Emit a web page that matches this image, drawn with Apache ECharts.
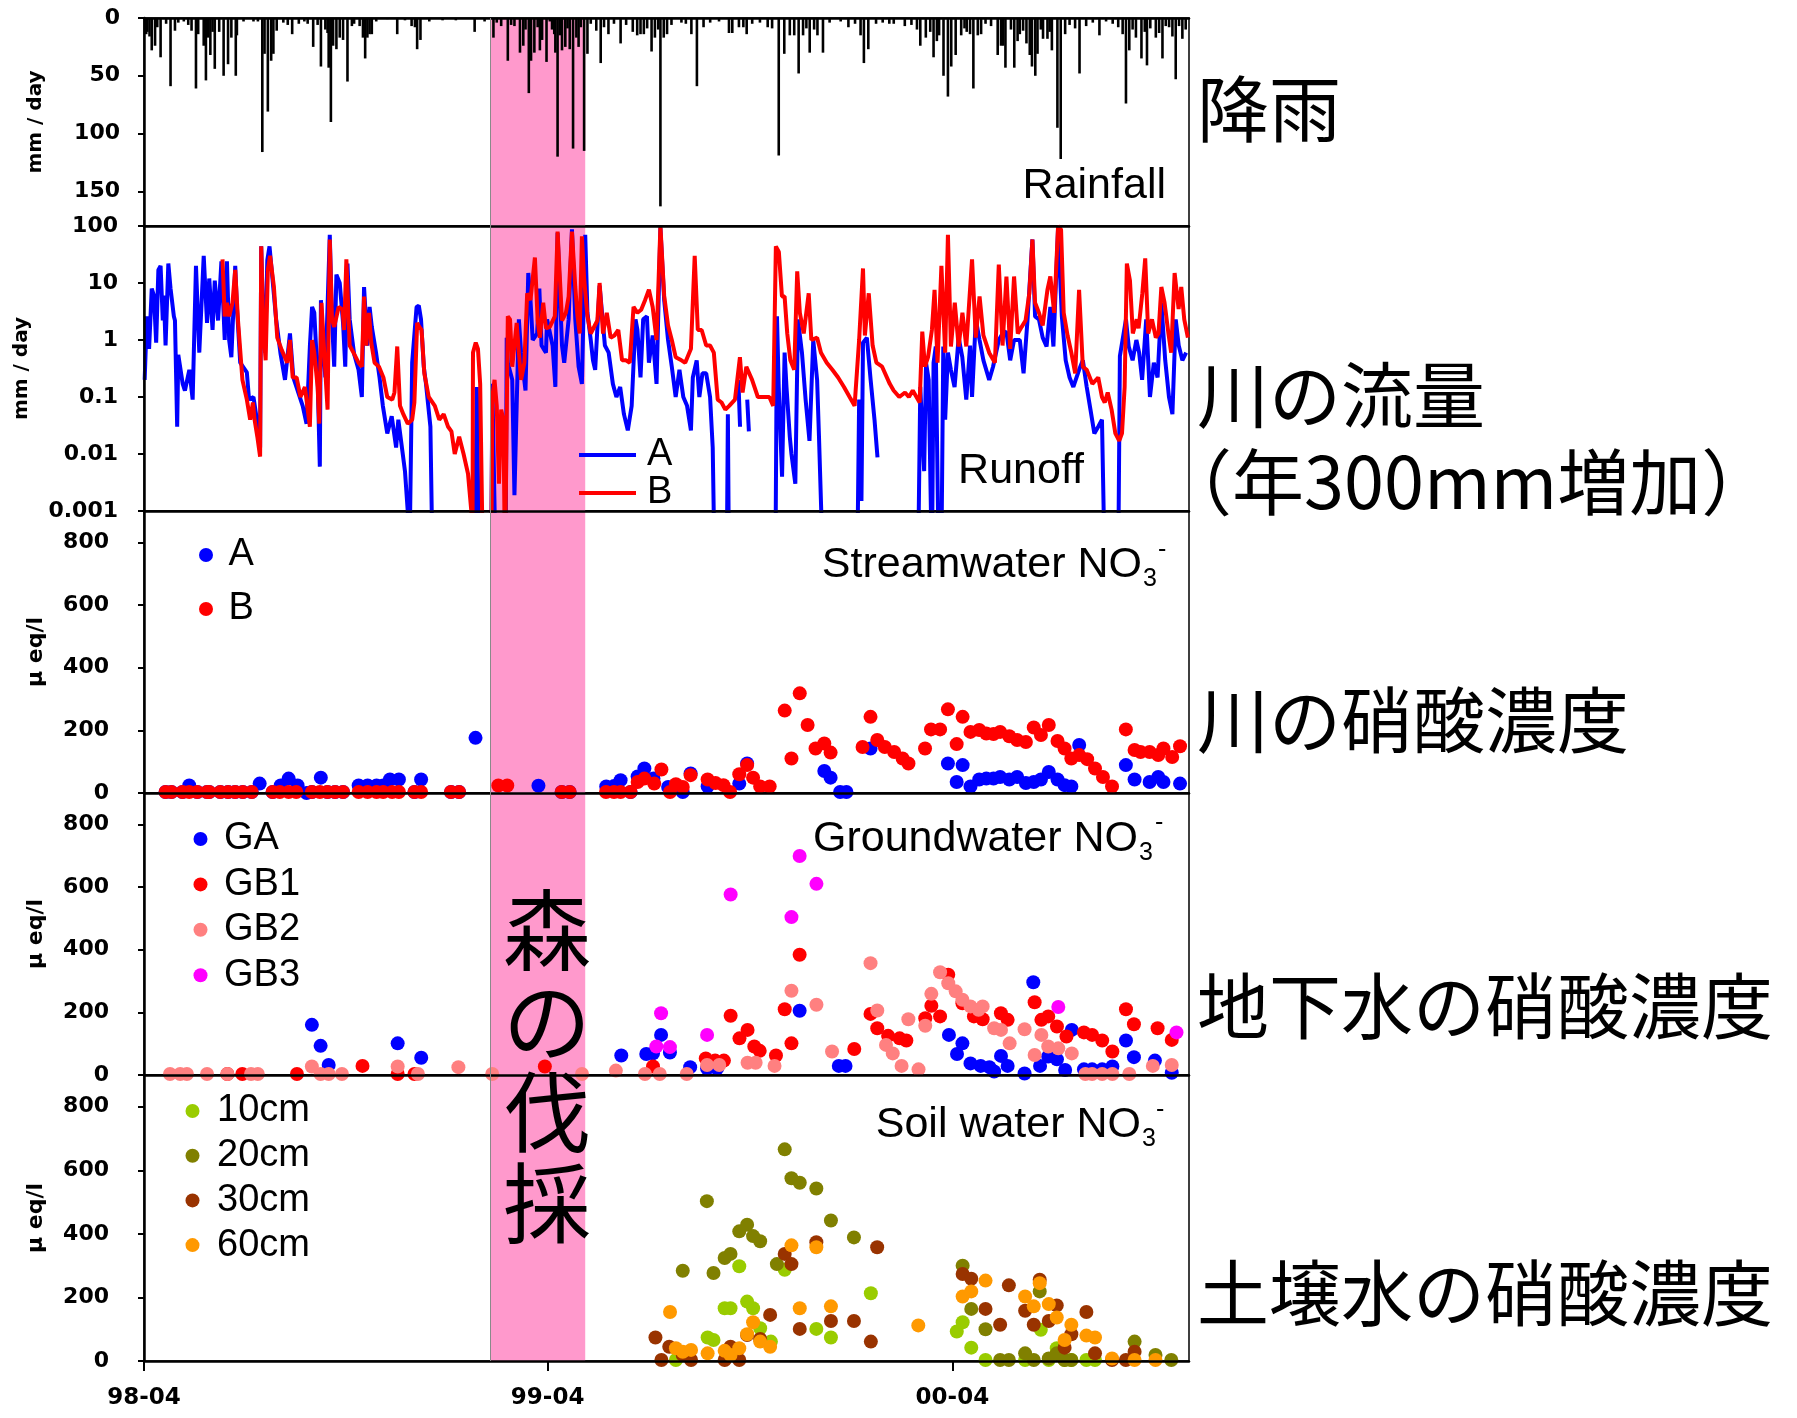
<!DOCTYPE html>
<html><head><meta charset="utf-8">
<script src="https://cdn.jsdelivr.net/npm/echarts@6/dist/echarts.min.js"></script>
<style>html,body{margin:0;padding:0;background:#fff}#c{width:1797px;height:1418px}</style>
</head><body><div id="c"></div>
<script>
// ---- DATA (x = days since 1998-04-01) ----
const tickDays = [0, 365, 731];
const tickLabels = ['98-04', '99-04', '00-04'];
const endDay = 945;               // 2000-11-01
const loggingDays = [313, 399];   // 1999-02-08 .. 1999-05-05

const rainfall = [[2,14],[3,12],[5,16],[7,28],[10,24],[12,8],[15,34],[20,5],[24,59],[28,11],[31,4],[36,3],[40,6],[43,11],[47,61],[49,14],[54,24],[56,54],[58,17],[60,32],[62,12],[64,44],[68,12],[72,50],[76,40],[79,17],[83,50],[84,15],[90,3],[99,3],[103,3],[107,116],[109,31],[112,81],[115,37],[117,31],[120,11],[126,4],[130,6],[134,14],[140,5],[145,3],[148,5],[153,25],[157,6],[160,42],[164,10],[166,13],[167,43],[169,90],[171,24],[174,27],[177,17],[180,19],[184,55],[188,7],[190,5],[195,7],[198,17],[200,35],[202,17],[204,14],[206,14],[210,3],[220,1],[229,14],[236,2],[242,7],[245,8],[247,27],[250,19],[258,3],[270,2],[282,2],[299,12],[308,3],[316,17],[319,4],[323,7],[329,37],[332,6],[335,7],[340,30],[343,24],[345,10],[348,65],[350,37],[353,30],[356,8],[358,28],[360,19],[364,38],[367,3],[369,10],[371,14],[372,30],[374,120],[376,15],[378,28],[381,25],[383,9],[385,27],[388,113],[391,17],[393,25],[395,8],[398,115],[401,31],[404,5],[409,11],[413,39],[416,8],[420,14],[425,5],[431,22],[436,6],[442,12],[446,15],[449,14],[452,14],[455,9],[459,29],[462,17],[465,10],[467,163],[470,17],[473,14],[477,6],[486,4],[490,5],[495,14],[500,59],[506,8],[512,4],[520,3],[529,13],[532,13],[538,8],[542,8],[545,14],[550,5],[557,4],[564,8],[568,9],[574,119],[579,31],[584,15],[588,15],[592,48],[596,15],[599,9],[602,30],[606,10],[609,15],[614,30],[620,4],[630,3],[637,8],[643,5],[648,15],[651,39],[655,27],[662,5],[668,4],[674,5],[678,5],[688,7],[694,6],[699,10],[702,24],[707,17],[711,12],[714,34],[717,20],[719,15],[723,50],[727,68],[730,42],[734,32],[739,15],[742,9],[744,12],[747,14],[750,61],[754,15],[757,14],[761,5],[766,7],[772,32],[775,24],[777,24],[779,43],[784,10],[787,43],[790,20],[792,14],[795,11],[798,22],[801,32],[803,42],[806,50],[808,31],[811,10],[813,18],[817,18],[819,12],[821,28],[826,95],[829,122],[833,14],[837,6],[842,9],[846,48],[852,7],[858,4],[864,15],[870,3],[876,5],[881,8],[885,14],[888,74],[891,28],[894,10],[897,17],[902,35],[905,12],[907,41],[910,9],[915,17],[918,13],[921,35],[924,7],[927,8],[930,16],[933,53],[936,7],[939,18],[942,10]];

// runoff (mm/day); 0.0001 = below the plotted range, null = no record
const runoffA = [[0.6,0.2],[2.6,2.6],[4.6,0.7],[7,8],[9,6],[11,0.9],[13,17],[15,20],[17,2.2],[18,6],[19.5,0.8],[22,22],[24,8],[27,2.6],[28,2.2],[30,0.03],[31,0.55],[35,0.17],[37,0.13],[41,0.3],[44,0.09],[47,20],[50,0.6],[54,30],[57,2],[59,12],[62,1.5],[64,11],[67,2.2],[70,24],[73,1],[75,24],[77,1],[79,0.5],[82.5,20],[84,3.8],[87,0.4],[93,0.27],[95,0.09],[99,0.1],[103,0.03],[105,0.013],[106,44],[107.5,3],[109.5,0.6],[111.5,25],[113.5,44],[116,13],[119.5,2.3],[123.5,0.57],[127.5,0.2],[132,1.3],[135,0.22],[143.5,0.07],[147,0.034],[150,0.77],[152,3.8],[154,3],[157,0.22],[159,0.006],[160,5],[162,0.77],[164,0.22],[168,70],[170,2.3],[172,0.34],[174,14],[177,10],[180,2],[182,0.34],[184,22],[186,2.3],[190,0.57],[194,0.3],[197,0.1],[199,8.5],[202,0.8],[204,3.8],[206,1.7],[210,0.57],[213,0.22],[216,0.07],[220,0.023],[224,0.046],[228,0.013],[230,0.04],[234,0.01],[236,0.005],[238.5,0.001],[240,0.0001],[241,0.0001],[242.5,0.4],[246.5,3.8],[248.5,4],[250.5,2.3],[253,0.34],[255,0.17],[259,0.03],[261,0.0001],[299,0.0001],[301,0.15],[303,0.0001],[314,0.0001],[315,0.17],[318,0.0001],[327,0.0001],[328,1.1],[329,0.4],[333,0.2],[335,0.0019],[337,0.07],[339,2.3],[341,0.6],[345,0.13],[347.5,15],[349.5,5],[351.5,1],[355.5,1.3],[357.5,8],[359.5,0.8],[363.5,0.6],[364.5,2.3],[369.5,0.8],[372,0.15],[374,76],[378,0.8],[380,0.4],[384,2.3],[387,87],[390,2.3],[393,0.34],[396,0.17],[399,70],[401,3],[404,1],[406,0.44],[408,0.3],[412,9],[416.8,0.8],[420.2,0.6],[424,0.17],[427.2,0.1],[430.6,0.15],[434,0.05],[437.5,0.026],[441,0.07],[444.5,2.3],[446.2,1.5],[449,0.22],[451.4,2.3],[454.8,2.6],[456.6,0.4],[460,1.2],[463.5,0.17],[467,93],[470.4,5],[473.9,1],[477.3,0.34],[480.8,0.1],[484.2,0.3],[487.7,0.1],[491.1,0.07],[494.6,0.026],[496.3,0.22],[499.8,0.44],[502.2,0.1],[505,0.26],[508.4,0.26],[511.9,0.1],[514.3,0.013],[516,0.0001],[527,0.0001],[528,0.05],[529,0.0001],[535,null],[537.5,0.2],[539,0.03],[540,null],[545.5,0.09],[547,0.025],[548,null],[571,0.0001],[572.4,2.6],[574,0.15],[577,0.004],[579.3,0.6],[581,0.15],[584,0.02],[585.5,0.01],[589,0.003],[591.4,2.3],[595,0.6],[598.3,0.09],[601.8,0.017],[605.2,1],[608.7,0.2],[610.4,0.02],[614,0.0001],[645,0.0001],[646.7,0.09],[648.8,0.0015],[650.2,0.9],[653.7,1.1],[657.1,0.2],[660.6,0.04],[663.3,0.0087],[664,null],[700,0.0001],[702,0.15],[705.5,0.005],[707.2,0.4],[709.6,0.2],[712.5,0.0001],[714,0.4],[716,0.77],[718.7,0.0001],[721,0.0001],[722.8,0.77],[724.5,0.04],[727,0.6],[729.7,0.3],[733,0.15],[736.7,1.1],[740,0.5],[743.6,0.09],[747,0.8],[748.8,0.1],[752.2,2.3],[755.6,1],[759.1,0.44],[764.3,0.2],[767.8,0.34],[773,1],[776.4,1.3],[779.9,1.4],[783.3,0.44],[786.8,1],[792,1],[795.4,0.26],[799,2.3],[803.4,58],[805.8,2.6],[809.3,2.3],[812.7,1.1],[816.2,0.77],[819.6,3.8],[822.4,0.77],[826.6,93],[830,2.6],[833.5,0.44],[837,0.22],[840.4,0.15],[845.6,0.3],[849,0.44],[852.5,0.15],[855.9,0.06],[859.4,0.023],[862.9,0.03],[866.3,0.04],[868.8,0.0001],[881,0.0001],[882.5,0.52],[888,2.3],[890.5,0.77],[894,0.44],[897.4,1],[899.9,0.6],[902.6,0.2],[906.3,2.3],[909.7,0.1],[913.2,0.4],[916.6,0.22],[920,4.5],[923.5,0.44],[926.9,0.1],[930,0.05],[933,2.3],[935.7,0.8],[939,0.44],[942.4,0.6]];

const runoffB = [[71,26],[73,2.6],[75,4.5],[77,2.6],[80,4.5],[82.5,17],[85,2.2],[89,0.2],[93,0.09],[96,0.04],[98.5,0.08],[100,0.04],[102.5,0.02],[105,0.009],[106,44],[108,1.5],[110,0.44],[112,17],[114,30],[117.5,8.5],[120.5,1.1],[124.5,0.67],[129.5,0.4],[132,1],[134.5,0.22],[138,0.22],[141.5,0.1],[145.5,0.15],[150,0.03],[152,1],[154,0.6],[157,0.15],[158.5,0.034],[160.5,4.5],[163,0.6],[166,0.06],[168,58],[170,2.3],[172,1.7],[176,3.8],[179.5,3.4],[181,1.5],[183,26],[186,0.8],[190,0.57],[194,0.4],[197,0.34],[199,5.8],[201,0.8],[203.5,3],[205.5,0.9],[208.5,0.4],[212.5,0.34],[216.5,0.22],[220,0.1],[224.5,0.09],[226.5,0.12],[229,0.77],[231.5,0.07],[234.5,0.05],[238.5,0.034],[242.5,0.04],[244.5,0.08],[247,2],[249,1.7],[251,1.5],[253.5,0.26],[257.5,0.1],[263,0.07],[267,0.04],[271,0.05],[275,0.03],[278,0.025],[281,0.01],[285,0.02],[289,0.01],[293,0.0045],[296,0.001],[297,0.0001],[297.5,0.6],[300,0.9],[302,0.7],[304,0.17],[306.5,0.0001],[314,0.0001],[315,0.1],[317,0.2],[319,0.07],[321,0.003],[323,0.06],[325,0.04],[326.5,0.0001],[328,0.0001],[329,2.6],[331,2.3],[333,0.34],[337,2],[339,0.6],[341,0.2],[344,0.4],[346.5,6.6],[349.5,5],[353.5,28],[356,2.2],[358,1.1],[361,4.5],[363.5,1.6],[367,1.7],[371.5,2.6],[374,80],[376.5,8.5],[378,2.2],[381.5,3],[384,5.8],[387,80],[390,8.5],[392,2.6],[394,1.3],[396,66],[398,12],[401,2.6],[404,1.3],[410,2.2],[412,10],[415.1,1.3],[418.5,3],[422,1.1],[425.4,1.2],[428.9,1.5],[432.3,0.44],[435.8,0.44],[439.3,0.4],[442.7,3.8],[446.2,3],[449.6,3.4],[453.1,5],[456.6,7.6],[460,3.8],[463.5,1],[467,100],[470.4,6],[473.9,1.8],[477.3,1],[480.8,0.5],[486,0.44],[489.4,0.4],[494.6,0.7],[498,30],[500.8,1.5],[504.3,1.5],[508.4,0.8],[511.9,0.8],[515.3,0.6],[518.8,0.09],[522.3,0.08],[525.7,0.06],[529.2,0.07],[534.4,0.09],[538.9,0.5],[541.3,0.12],[544.7,0.34],[549.9,0.2],[555.1,0.1],[560.3,0.1],[565.5,0.1],[569,0.07],[571.4,44],[574.1,35],[576.9,5.8],[579.3,5.8],[581.7,1.3],[584.5,0.44],[588,0.3],[590.7,16],[593.1,3],[596.6,1.3],[601.1,6.6],[603.5,1],[608.7,1.1],[612.2,0.6],[617.4,0.4],[622.5,0.3],[627.7,0.22],[633,0.15],[638.1,0.1],[642.6,0.07],[646.7,1],[650.2,18],[651.9,1.2],[655.4,6.6],[658.9,0.8],[662.3,0.4],[667.5,0.34],[674.4,0.17],[677.9,0.13],[683,0.1],[688.2,0.12],[691.7,0.1],[695.2,0.13],[701.4,0.08],[703.8,1.4],[706.2,0.34],[709,0.5],[712.5,1.5],[714.9,7.6],[717.6,0.4],[721.1,20],[724.5,0.6],[727,70],[729.7,0.77],[733.2,4.5],[736.7,0.77],[740.1,3],[743.6,0.77],[748.8,26],[752.2,1.1],[755.6,5.8],[759.1,1.2],[764.3,0.6],[769.5,0.4],[773,21],[776.4,0.8],[779.9,13],[783.3,0.7],[786.8,13],[790.2,1.3],[793.7,1.7],[797.2,2.2],[800.6,6.6],[803.4,58],[805.8,4.5],[809.3,3],[812.7,1.8],[817,7.6],[819.6,13],[823.1,3],[826.6,100],[829.3,87],[831.7,3],[835.2,1.2],[838.6,0.6],[842.1,0.26],[845.6,7.6],[849,0.34],[852.5,0.3],[857.6,0.17],[862.9,0.22],[866.3,0.1],[868.8,0.08],[871.5,0.12],[875,0.06],[878.4,0.023],[881.9,0.017],[884.4,0.023],[886.8,0.15],[888.8,22],[891.6,11],[894.2,1.3],[897.7,2.3],[899.4,1.6],[902.8,6.6],[905.4,27],[908.1,1.3],[911.5,2.3],[915,1.1],[917.4,1.3],[920,8.5],[922.9,4.5],[926.4,1.3],[928.9,0.6],[932,15],[935.6,3.5],[938,8.5],[940.7,2.3],[944,1.1]];

// stream water NO3- (µeq/l)
const streamA = [[19.5,3],[24.8,3],[34.8,3],[40.9,24],[48.2,3],[57,3],[59,3],[69,3],[76,3],[82.4,3],[89.3,3],[97.4,3],[104.6,30],[116.3,3],[123.6,24],[130.8,46],[138.9,24],[147,0],[151.8,3],[159.9,49],[165.9,3],[172.8,3],[180,3],[194.1,24],[202.2,24],[210.3,24],[216.3,24],[222.4,43],[230.5,43],[244.6,3],[250.6,43],[277.6,3],[284.9,3],[299.8,176],[356.7,23],[377.7,3],[384.9,3],[418,21],[425,22],[431,41],[440,3],[446.4,53],[452.5,78],[460.7,46],[474,19],[487.2,3],[494.3,62],[509.7,21],[538.3,30],[545.4,94],[615.2,70],[620.9,49],[629.5,3],[635.2,3],[657,142],[727,94],[734.9,35],[740.3,89],[747.4,21],[755.3,43],[761.7,46],[768.2,46],[774.2,51],[782.5,43],[789.6,51],[797.5,32],[804.6,35],[811.1,43],[818.2,67],[826.1,43],[832.5,25],[838.6,21],[845.7,153],[887.9,89],[895.8,43],[909.4,35],[917.2,51],[921.9,35],[936.9,30]];
const streamB = [[19.5,3],[24.8,3],[34.8,3],[40.9,3],[48.2,3],[57,3],[59,3],[69,3],[76,3],[82.4,3],[89.3,3],[97.4,3],[116.3,3],[122.8,3],[130.8,3],[137.7,3],[151.8,3],[159,3],[165.9,3],[172.8,3],[180,3],[194.1,3],[202.2,3],[210.3,3],[216.3,3],[224.4,3],[230.5,3],[244.6,3],[250.6,3],[277.6,3],[284.9,3],[320.4,24],[328.5,24],[377.7,3],[384.9,3],[417.8,3],[425,3],[431,3],[440,3],[446.4,35],[452.5,46],[461.4,30],[467.9,75],[475.7,3],[481,28],[487.2,19],[494.3,57],[509.7,43],[516.8,32],[524,25],[530,3],[538.3,60],[545.4,89],[550.8,49],[557.2,21],[565.8,21],[579.4,263],[585.5,110],[593,318],[600.1,217],[607.3,142],[615.2,158],[620.9,129],[649.8,147],[657,243],[663.1,169],[669.9,147],[678.4,131],[686,110],[691.3,94],[706.3,142],[711.7,203],[719.9,203],[727,267],[734.9,156],[740.3,243],[747.4,195],[755.3,201],[761.7,190],[768.2,188],[774.2,195],[782.5,181],[789.6,169],[797.5,163],[804.6,209],[811.1,185],[818.2,217],[826.1,166],[832.5,142],[838.6,110],[845.7,121],[852.9,108],[860,78],[867.2,51],[875.4,21],[887.9,203],[895.8,137],[901.2,131],[909.4,131],[917.2,121],[921.9,142],[929.8,115],[936.9,149]];

// groundwater NO3-
const groundGA = [[151.8,160],[159.7,93],[167,32],[229.4,101],[250.7,55],[431.6,62],[454.2,67],[460.3,69],[467.6,128],[475.6,72],[493.9,25],[509.2,21],[518.3,21],[592.9,205],[628.3,29],[634.4,29],[727.9,128],[735.2,67],[740.1,101],[747.4,37],[756.6,29],[764.5,25],[768.8,11],[775,61],[781,29],[796.3,5],[804.2,296],[810.3,29],[817.7,59],[825.6,50],[833,16],[839,144],[850,18],[857.4,18],[866.5,18],[875.7,27],[888,110],[895.2,57],[914.2,46],[929.4,7]];
const groundGB1 = [[75.4,3],[88.9,3],[138.3,3],[197.6,29],[229.4,3],[244.6,3],[362.5,27],[460.3,27],[508,53],[516.5,46],[524.4,46],[530.5,189],[538.5,117],[545.8,144],[551.9,91],[556.8,77],[571.5,62],[579.4,210],[585.5,101],[592.9,384],[642.3,83],[657,195],[663.1,149],[672.9,125],[683.3,117],[689.4,110],[706.5,181],[712,221],[719.9,187],[727.3,320],[740.1,229],[750.5,187],[758.4,178],[774.9,197],[781,176],[805.4,232],[811.5,176],[817.7,187],[825.6,155],[834.2,123],[850,136],[857.4,128],[866.5,110],[875.7,75],[888,210],[895.2,162],[916.6,149],[929.4,112]];
const groundGB2 = [[23.5,3],[32.7,3],[38.8,3],[57,3],[75.4,3],[96.8,3],[102.9,3],[151.8,27],[159.7,3],[167,3],[179,3],[229.4,27],[247.7,3],[284.3,25],[314.9,3],[396.1,3],[426.7,14],[453,3],[466.4,3],[490.8,3],[509.2,32],[520.2,32],[545.8,39],[553.1,39],[570.2,29],[585.5,269],[608.1,224],[622.2,75],[657,357],[663.1,206],[671,96],[677.1,69],[685.1,29],[691.2,178],[700.4,18],[706.5,157],[712,259],[719.9,328],[727.3,293],[734,267],[740.1,240],[747.4,219],[754.7,208],[758.4,219],[768.8,149],[775,144],[782.8,101],[796.3,146],[805.4,64],[811.5,128],[817.7,91],[826.8,85],[839,69],[851.3,3],[857.4,3],[866.5,3],[875.7,3],[891,3],[912.3,29],[929.4,32]];
const groundGB3 = [[463.3,91],[467.6,197],[475.6,89],[509.2,128],[530.5,576],[585.5,504],[592.9,699],[608.1,610],[826.8,217],[933.7,136]];

// soil water NO3-
const soil10 = [[481,3],[509.7,74],[515,66],[525.1,166],[530.4,166],[538.3,298],[545.4,187],[550.8,166],[557.2,103],[566.9,61],[579.4,287],[608,101],[621.2,74],[657.3,213],[735,93],[740.3,122],[748.1,42],[761,3],[796.8,3],[811,98],[818.2,3],[825.4,40],[832.5,3],[838.6,3],[852.2,3],[860,3]];
const soil20 = [[487.2,284],[509,503],[515,277],[525.1,324],[530.4,337],[538.3,408],[545.4,429],[550.8,393],[557.2,377],[572.3,305],[579.4,666],[585.5,575],[593,561],[608,543],[621.2,442],[642,389],[740.3,300],[748.1,164],[761,100],[774.2,3],[782.1,3],[796.8,24],[804.6,3],[810,219],[818.2,8],[825.4,24],[832.5,3],[838.6,3],[895.8,61],[914.7,19],[929,3]];
const soil30 = [[462.5,74],[467.9,3],[475,45],[487.2,19],[494.7,3],[525.1,3],[530.4,45],[538.3,3],[545.4,82],[557.2,69],[566.2,145],[579.4,337],[585.5,305],[593,101],[608,374],[621.2,126],[642,126],[657.3,61],[663,358],[740.3,274],[748.1,259],[761,164],[774.2,114],[782.1,238],[796.8,158],[804.6,114],[810,256],[818.2,126],[825.4,175],[832.5,42],[838.6,84],[852.2,154],[860,24],[875.4,3],[887.9,3],[895.8,29]];
const soil60 = [[475.7,154],[481,40],[487.2,29],[494.7,35],[509.7,24],[525.1,32],[530.4,19],[538.3,40],[545.4,84],[550.8,122],[557.2,61],[566.2,45],[585.5,364],[593,166],[608,358],[621.2,172],[700.2,112],[740.3,203],[748.1,219],[761,253],[796.8,203],[804.6,172],[810,245],[818.2,179],[825.4,137],[832.5,66],[838.6,114],[852.2,80],[860,74],[875.4,8],[895.8,3],[914.7,3]];

// ---- CHART ----
const T0 = Date.UTC(1998, 3, 1);
const ts = d => T0 + d * 86400000;
const toXY = arr => arr.map(([d, v]) => [ts(d), v]);
const tickTs = tickDays.map(ts);

const LBL = {color:'#000', fontFamily:'DejaVu Sans', fontWeight:'bold', fontSize:22};
const grids = [
  {left:144, width:1045, top:18, height:208},
  {left:144, width:1045, top:226, height:285},
  {left:144, width:1045, top:511, height:282},
  {left:144, width:1045, top:793, height:282},
  {left:144, width:1045, top:1075, height:286}
].map(g => Object.assign({show:true, borderColor:'#000', borderWidth:1.5, backgroundColor:'transparent'}, g));

function xAx(gridIndex, position, labels) {
  return {
    type:'value', gridIndex, position, min:ts(0), max:ts(endDay), z:4,
    axisLine:{show:true, onZero:false, lineStyle:{color:'#000', width:2.5}},
    axisTick: labels ? {show:true, customValues:tickTs, length:10, lineStyle:{color:'#000', width:2}} : {show:false},
    axisLabel: labels ? Object.assign({}, LBL, {show:true, customValues:tickTs, margin:26, fontSize:23,
      formatter: v => { const i = tickTs.findIndex(t => Math.abs(t - v) < 86400000); return i >= 0 ? tickLabels[i] : ''; }}) : {show:false},
    splitLine:{show:false}
  };
}
function yAx(gridIndex, extra, name, gap, nameSize) {
  return Object.assign({
    gridIndex, z:4, name, nameLocation:'middle', nameGap:gap,
    nameTextStyle:{color:'#000', fontFamily:'DejaVu Sans', fontWeight:'bold', fontSize:nameSize},
    axisLine:{show:true, onZero:false, lineStyle:{color:'#000', width:2.5}},
    axisTick:{show:true, length:6, lineStyle:{color:'#000', width:2}},
    splitLine:{show:false}
  }, extra);
}
const conc = [0,200,400,600,800];
const rainTicks = [0,50,100,150];
const concAxis = () => ({type:'value', min:0, max:900, axisLabel:Object.assign({margin:35, customValues:conc}, LBL), axisTick:{show:true, length:6, customValues:conc, lineStyle:{color:'#000', width:2}}});
const yAxes = [
  yAx(0, {type:'value', inverse:true, min:0, max:180, axisLabel:Object.assign({margin:24, customValues:rainTicks}, LBL), axisTick:{show:true, length:6, customValues:rainTicks, lineStyle:{color:'#000', width:2}}}, 'mm / day', 98, 20),
  yAx(1, {type:'log', logBase:10, min:0.001, max:100, axisLabel:Object.assign({margin:26, formatter: v => { const e = Math.round(Math.log10(v)); return e >= 0 ? String(Math.pow(10, e)) : Math.pow(10, e).toFixed(-e); }}, LBL)}, 'mm / day', 112, 20),
  yAx(2, concAxis(), 'μ eq/l', 97, 22),
  yAx(3, concAxis(), 'μ eq/l', 97, 22),
  yAx(4, concAxis(), 'μ eq/l', 97, 22)
];
const xAxes = [xAx(0,'top',false), xAx(0,'bottom',false), xAx(1,'bottom',false), xAx(2,'bottom',false), xAx(3,'bottom',false), xAx(4,'bottom',true)];

const band = {
  markArea:{silent:true, itemStyle:{color:'#FF99CC'}, data:[[{xAxis:ts(loggingDays[0])},{xAxis:ts(loggingDays[1])}]]},
  markLine:{silent:true, symbol:'none', label:{show:false}, lineStyle:{color:'#8a8a8a', width:1, type:'solid'}, data:[{xAxis:ts(loggingDays[0])}]}
};
function scatter(name, data, xi, yi, color, withBand) {
  return Object.assign({name, type:'scatter', xAxisIndex:xi, yAxisIndex:yi, data:toXY(data), symbolSize:14, z:3,
    itemStyle:{color, opacity:1}}, withBand ? band : {});
}
const series = [
  Object.assign({name:'Rainfall', type:'bar', xAxisIndex:0, yAxisIndex:0, data:toXY(rainfall), barWidth:2.6, z:3, itemStyle:{color:'#000'}}, band),
  Object.assign({name:'Runoff A', type:'line', xAxisIndex:2, yAxisIndex:1, data:toXY(runoffA), showSymbol:false, symbol:'none', connectNulls:false, clip:true, z:3, lineStyle:{color:'#0000FF', width:4}, itemStyle:{color:'#0000FF'}}, band),
  {name:'Runoff B', type:'line', xAxisIndex:2, yAxisIndex:1, data:toXY(runoffB), showSymbol:false, symbol:'none', clip:true, z:3, lineStyle:{color:'#FF0000', width:4}, itemStyle:{color:'#FF0000'}},
  scatter('Stream A', streamA, 3, 2, '#0000FF', true),
  scatter('Stream B', streamB, 3, 2, '#FF0000', false),
  scatter('GA', groundGA, 4, 3, '#0000FF', true),
  scatter('GB1', groundGB1, 4, 3, '#FF0000', false),
  scatter('GB2', groundGB2, 4, 3, '#FF8080', false),
  scatter('GB3', groundGB3, 4, 3, '#FF00FF', false),
  scatter('10cm', soil10, 5, 4, '#99CC00', true),
  scatter('20cm', soil20, 5, 4, '#808000', false),
  scatter('30cm', soil30, 5, 4, '#993300', false),
  scatter('60cm', soil60, 5, 4, '#FF9900', false)
];

const LEG_TXT = {color:'#000', fontFamily:'Liberation Sans', fontSize:38, lineHeight:38};
function legend(data, left, top, icon, w, h, gap, pad) {
  return {data, left, top, orient:'vertical', icon, itemWidth:w, itemHeight:h, itemGap:gap, padding:0,
    selectedMode:false, formatter: n => n.replace(/^(Runoff|Stream) /, ''),
    textStyle:Object.assign({padding:[0,0,0,pad]}, LEG_TXT)};
}
const legends = [
  legend(['Runoff A','Runoff B'], 579, 436, 'rect', 57, 4, 0, 6),
  legend(['Stream A','Stream B'], 199, 536, 'circle', 14, 14, 16, 10.5),
  legend(['GA','GB1','GB2','GB3'], 193.5, 820, 'circle', 14, 14, 7.4, 11.5),
  legend(['10cm','20cm','30cm','60cm'], 185.5, 1092, 'circle', 14, 14, 6.7, 12.5)
];

const EN = {fill:'#000', fontFamily:'Liberation Sans', fontSize:43};
const SUB = {fill:'#000', fontFamily:'Liberation Sans', fontSize:25};
const JP = {fill:'#000', fontFamily:'Noto Sans CJK JP', fontSize:72};
function txt(text, x, y, style, align) {
  return {type:'text', x, y, z:10, style:Object.assign({text, align:align || 'left', verticalAlign:'middle'}, style)};
}
const graphics = [
  txt('Rainfall', 1166, 186, EN, 'right'),
  txt('Runoff', 1084, 471, EN, 'right'),
  txt('Streamwater NO', 1142, 565, EN, 'right'), txt('3', 1143, 579, SUB), txt('-', 1158, 550, SUB),
  txt('Groundwater NO', 1138, 839, EN, 'right'), txt('3', 1139, 853, SUB), txt('-', 1155, 823, SUB),
  txt('Soil water NO', 1141, 1125, EN, 'right'), txt('3', 1142, 1139, SUB), txt('-', 1156, 1110, SUB),
  txt('降雨', 1197, 109, JP),
  txt('川の流量', 1197, 395, JP),
  txt('（年300mm増加）', 1160, 482, JP),
  txt('川の硝酸濃度', 1197, 720, JP),
  txt('地下水の硝酸濃度', 1197, 1006, JP),
  txt('土壌水の硝酸濃度', 1197, 1293, JP),
  txt('森\nの\n伐\n採', 547, 1066, {fill:'#000', fontFamily:'Noto Sans CJK JP', fontSize:88, lineHeight:91}, 'center')
];

const chart = echarts.init(document.getElementById('c'), null, {renderer:'canvas'});
chart.setOption({
  animation:false,
  backgroundColor:'#fff',
  grid:grids, xAxis:xAxes, yAxis:yAxes, series, legend:legends, graphic:graphics
});
</script></body></html>
